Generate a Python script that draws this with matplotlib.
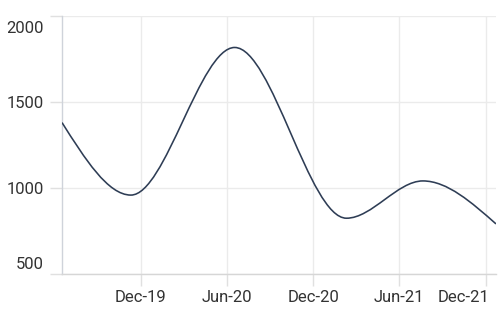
import matplotlib
matplotlib.use("Agg")
import matplotlib.pyplot as plt
import matplotlib.dates as mdates
from matplotlib.path import Path
from matplotlib.patches import PathPatch
import matplotlib.transforms as mtransforms
import numpy as np
import pandas as pd

plt.rcParams['font.family'] = ['Roboto', 'DejaVu Sans']

# Data
dates = ['2019-06-17', '2019-11-10', '2020-06-17', '2021-02-09', '2021-07-21', '2021-12-23']
values = [1380, 960, 1815, 826, 1042, 793]
y_ticks = [500, 1000, 1500, 2000]
x_ticks = ['2019-12-01', '2020-06-01', '2020-12-01', '2021-06-01', '2021-12-01']
x_tick_labels = ['Dec-19', 'Jun-20', 'Dec-20', 'Jun-21', 'Dec-21']

xs = mdates.date2num(pd.to_datetime(dates).to_pydatetime())
ys = np.array(values, dtype=float)


def monotone_path(x, y):
    n = len(x)
    h = np.diff(x)
    s = np.diff(y) / h
    t = np.zeros(n)
    for i in range(1, n - 1):
        s0, s1 = s[i - 1], s[i]
        h0, h1 = h[i - 1], h[i]
        p = (s0 * h1 + s1 * h0) / (h0 + h1)
        t[i] = (np.sign(s0) + np.sign(s1)) * min(abs(s0), abs(s1), 0.5 * abs(p))
    t[0] = (3 * s[0] - t[1]) / 2
    t[-1] = (3 * s[-1] - t[-2]) / 2
    verts = [(x[0], y[0])]
    codes = [Path.MOVETO]
    for i in range(n - 1):
        dx = (x[i + 1] - x[i]) / 3
        verts += [(x[i] + dx, y[i] + dx * t[i]),
                  (x[i + 1] - dx, y[i + 1] - dx * t[i + 1]),
                  (x[i + 1], y[i + 1])]
        codes += [Path.CURVE4] * 3
    return Path(verts, codes)


fig = plt.figure(figsize=(5, 3.12), dpi=100)
ax = fig.add_axes([0.124, 0.1202, 0.868, 0.830])

ax.add_patch(PathPatch(monotone_path(xs, ys), facecolor='none',
                       edgecolor='#2e3d55', linewidth=1.15, zorder=3))

ax.set_xlim(xs[0], xs[-1])
ax.set_ylim(500, 2000)
xt = mdates.date2num(pd.to_datetime(x_ticks).to_pydatetime())
ax.set_xticks(xt)
ax.set_xticklabels(x_tick_labels)
ax.set_yticks(y_ticks)
ax.set_yticklabels([str(v) for v in y_ticks])

ax.grid(True, color='#ebebeb', linewidth=1.0, zorder=0)
for side in ['top', 'right']:
    ax.spines[side].set_visible(False)
ax.spines['left'].set_color('#cfd3da')
ax.spines['bottom'].set_color('#d6d6d6')
ax.spines['left'].set_linewidth(1.0)
ax.spines['bottom'].set_linewidth(1.0)

ax.tick_params(axis='both', colors='#e0e0e0', labelcolor='#333333',
               labelsize=12, length=8.5, width=1.0)
ax.tick_params(axis='y', pad=4.3)
ax.tick_params(axis='x', pad=2.5)


def shift(label, dx_px, dy_px):
    label.set_transform(label.get_transform() +
                        mtransforms.ScaledTranslation(dx_px / 100, dy_px / 100,
                                                      fig.dpi_scale_trans))


ylabels = ax.get_yticklabels()
ylabels[0].set_va('bottom')
shift(ylabels[0], 0, 2)
ylabels[-1].set_va('top')
shift(ylabels[-1], 0, -5)
xlabels = ax.get_xticklabels()
xlabels[-1].set_ha('right')
shift(xlabels[-1], 4, 0)

fig.savefig('out.png', dpi=100)
